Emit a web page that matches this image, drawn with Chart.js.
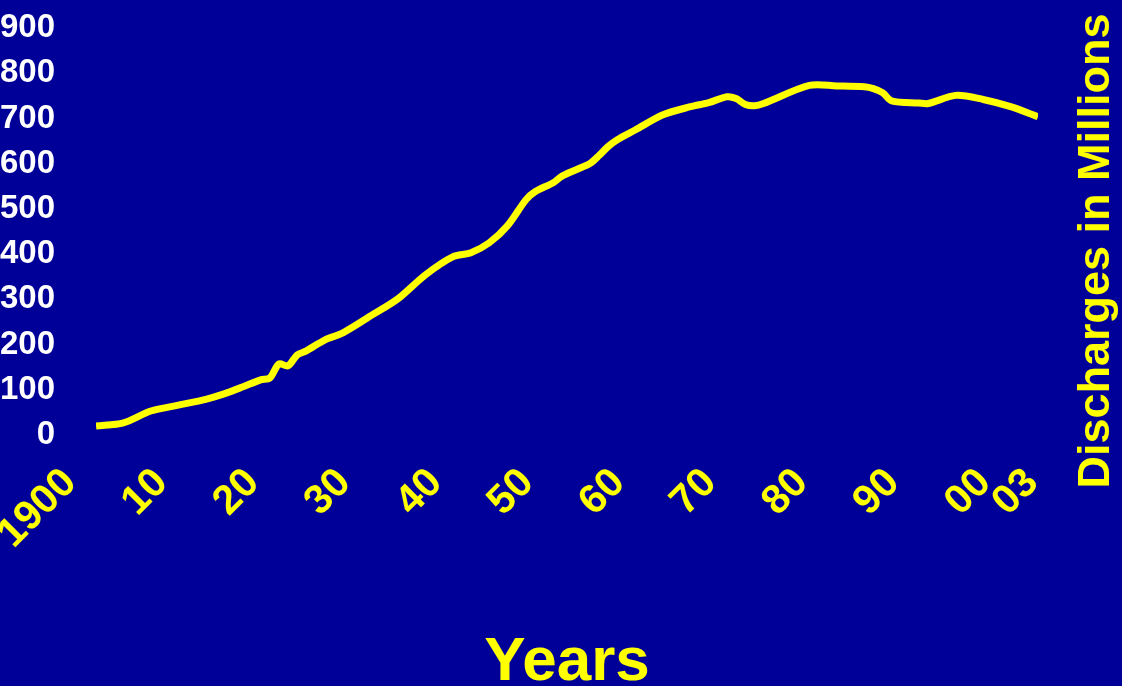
<!DOCTYPE html>
<html>
<head>
<meta charset="utf-8">
<title>Discharges in Millions, 1900–2003</title>
<script src="https://cdn.jsdelivr.net/npm/chart.js@4.4.1/dist/chart.umd.min.js"></script>
<style>
  html, body { margin: 0; padding: 0; background: #000099; }
  #wrap { position: relative; width: 1122px; height: 686px; }
</style>
</head>
<body>
<div id="wrap"><canvas id="chart"></canvas></div>
<script>
// Hospital discharges per year, in millions
const years = [1900, 1903, 1906, 1909, 1912, 1914, 1916, 1918, 1919, 1920,
               1921, 1922, 1923, 1925, 1927, 1930, 1933, 1936, 1939, 1941,
               1943, 1945, 1947, 1948, 1950, 1951, 1953, 1954, 1955, 1956,
               1957, 1959, 1962, 1965, 1967, 1969, 1970, 1971, 1972, 1973,
               1978, 1981, 1984, 1985, 1986, 1987, 1990, 1991, 1994, 1997,
               2000, 2003];
const discharges = [20, 27, 53, 66, 79, 91, 106, 122, 126, 157,
                    153, 177, 186, 210, 226, 263, 301, 354, 394, 403,
                    425, 463, 520, 538, 558, 573, 591, 600, 618, 638,
                    653, 675, 708, 726, 735, 748, 744, 731, 728, 733,
                    773, 772, 770, 766, 757, 739, 734, 733, 751, 742,
                    726, 704];

// Axis ticks and their labels
const decadeTicks  = [1900, 1910, 1920, 1930, 1940, 1950, 1960, 1970, 1980, 1990, 2000];
const decadeLabels = ['1900', '10', '20', '30', '40', '50', '60', '70', '80', '90', '00'];
const finalTicks   = [2003];
const finalLabels  = ['03'];
const valueTicks   = [0, 100, 200, 300, 400, 500, 600, 700, 800, 900];

const FONT = '"Liberation Sans", Arial, Helvetica, sans-serif';
const YELLOW = '#ffff00';

// Vertical title on the right-hand side, reading bottom to top
const sideTitle = {
  id: 'sideTitle',
  afterDraw(chart, args, opts) {
    const { ctx, chartArea } = chart;
    ctx.save();
    ctx.font = `bold ${opts.size}px ${FONT}`;
    ctx.fillStyle = opts.color;
    ctx.textAlign = 'center';
    ctx.textBaseline = 'middle';
    ctx.translate(chartArea.right + opts.dx, opts.y);
    ctx.rotate(-Math.PI / 2);
    ctx.fillText(opts.text, 0, 0);
    ctx.restore();
  }
};

const yearTickOpts = (labelOffset) => ({
  autoSkip: false,
  maxRotation: 45,
  minRotation: 45,
  padding: 24,
  labelOffset,
  color: YELLOW,
  font: { family: FONT, size: 41, weight: 'bold' }
});

new Chart(document.getElementById('chart'), {
  type: 'line',
  data: {
    datasets: [{
      label: 'Discharges in Millions',
      data: years.map((yr, i) => ({ x: yr, y: discharges[i] })),
      borderColor: YELLOW,
      borderWidth: 7,
      borderCapStyle: 'butt',
      borderJoinStyle: 'round',
      pointRadius: 0,
      tension: 0.3,
      fill: false,
      xAxisID: 'x',
      yAxisID: 'y'
    }]
  },
  options: {
    responsive: true,
    maintainAspectRatio: false,
    animation: false,
    events: [],
    layout: { padding: { left: 0, right: 84, top: 28, bottom: 0 } },
    plugins: {
      legend: { display: false },
      tooltip: { enabled: false },
      sideTitle: { text: 'Discharges in Millions', size: 45, color: YELLOW, dx: 59, y: 251 }
    },
    scales: {
      x: {
        type: 'linear',
        position: 'bottom',
        min: 1900,
        max: 2003,
        afterBuildTicks: s => { s.ticks = decadeTicks.map(v => ({ value: v })); },
        afterFit: s => { s.height = 251; },
        ticks: Object.assign(yearTickOpts(-26), {
          callback: v => decadeLabels[decadeTicks.indexOf(v)]
        }),
        grid: { display: false, drawTicks: false },
        border: { display: false },
        title: {
          display: true,
          text: 'Years',
          color: YELLOW,
          padding: 0,
          font: { family: FONT, size: 62, weight: 'bold', lineHeight: 0.74 }
        }
      },
      // closing year label, hung from the zero line
      x2: {
        type: 'linear',
        axis: 'x',
        position: { y: 0 },
        min: 1900,
        max: 2003,
        afterBuildTicks: s => { s.ticks = finalTicks.map(v => ({ value: v })); },
        ticks: Object.assign(yearTickOpts(-6), {
          callback: v => finalLabels[finalTicks.indexOf(v)]
        }),
        grid: { display: false, drawTicks: false },
        border: { display: false }
      },
      y: {
        type: 'linear',
        position: 'left',
        min: 0,
        max: 900,
        afterBuildTicks: s => { s.ticks = valueTicks.map(v => ({ value: v })); },
        afterFit: s => {
          s.width = 96;
          // the wide label gap should not push the plot area down
          s.paddingTop = 0;
          s.paddingBottom = 0;
        },
        ticks: {
          autoSkip: false,
          padding: 41,
          color: '#ffffff',
          font: { family: FONT, size: 33, weight: 'bold' }
        },
        grid: { display: false, drawTicks: false },
        border: { display: false }
      }
    }
  },
  plugins: [sideTitle]
});
</script>
</body>
</html>
